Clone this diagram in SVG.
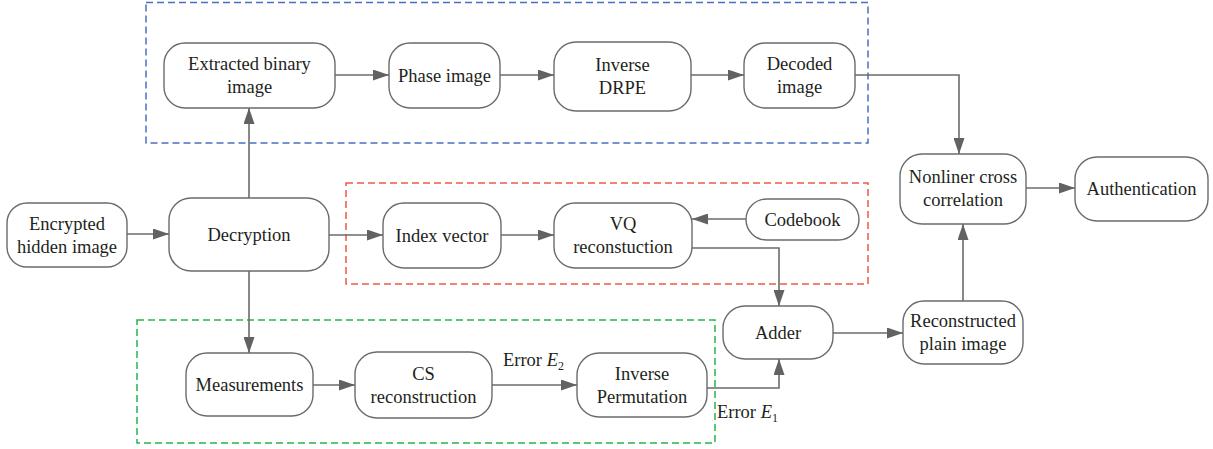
<svg xmlns="http://www.w3.org/2000/svg" width="1213" height="449" viewBox="0 0 1213 449" font-family="'Liberation Serif', 'Times New Roman', serif">
<defs>
<marker id="ah" viewBox="0 0 16 11" refX="16" refY="5.5" markerWidth="16" markerHeight="11" markerUnits="userSpaceOnUse" orient="auto">
<path d="M0,0 L16,5.5 L0,11 Z" fill="#626262"/>
</marker>
<style>
.n{fill:#fff;stroke:#6b6b6b;stroke-width:1.4}
.t{font-family:'Liberation Serif',serif;font-size:18.5px;fill:#231f20;text-anchor:middle}
.c{fill:none;stroke:#6b6b6b;stroke-width:1.6;marker-end:url(#ah)}
.g{fill:none;stroke-width:1.5;stroke-dasharray:7 4}
</style>
</defs>
<rect width="1213" height="449" fill="#fff"/>
<g id="groups">
<rect class="g" x="146" y="2.5" width="722" height="140.5" stroke="#4a6fc0"/>
<rect class="g" x="346" y="183" width="522" height="101" stroke="#f05a46"/>
<rect class="g" x="137" y="320" width="578" height="123" stroke="#26b34e"/>
</g>
<g id="connectors">
<path class="c" d="M127,234 H169"/>
<path class="c" d="M249,198 V108"/>
<path class="c" d="M335,75 H389"/>
<path class="c" d="M500,75 H554"/>
<path class="c" d="M691,75 H744"/>
<path class="c" d="M855,75 H959 V154"/>
<path class="c" d="M329,235 H383"/>
<path class="c" d="M501,235 H554"/>
<path class="c" d="M746,219 H692"/>
<path class="c" d="M692,248 H779 V306"/>
<path class="c" d="M249,271 V353"/>
<path class="c" d="M313,385 H355"/>
<path class="c" d="M492,385 H577"/>
<path class="c" d="M707,388 H779 V359"/>
<path class="c" d="M833,333 H903"/>
<path class="c" d="M963,301 V224"/>
<path class="c" d="M1026,188 H1075"/>
</g>
<g id="encrypted">
<rect class="n" x="7" y="203" width="120" height="64" rx="20"/>
<text class="t" x="67" y="229.5">Encrypted</text>
<text class="t" x="67" y="252.5">hidden image</text>
</g>
<g id="decryption">
<rect class="n" x="169" y="198" width="160" height="73" rx="22"/>
<text class="t" x="249" y="240.5">Decryption</text>
</g>
<g id="extracted">
<rect class="n" x="164" y="43" width="171" height="65" rx="21"/>
<text class="t" x="249.5" y="70">Extracted binary</text>
<text class="t" x="249.5" y="93">image</text>
</g>
<g id="phase">
<rect class="n" x="389" y="43" width="111" height="65" rx="21"/>
<text class="t" x="444.5" y="82">Phase image</text>
</g>
<g id="inverse-drpe">
<rect class="n" x="554" y="42" width="137" height="69" rx="22"/>
<text class="t" x="622.5" y="70.5">Inverse</text>
<text class="t" x="622.5" y="93.5">DRPE</text>
</g>
<g id="decoded">
<rect class="n" x="744" y="43" width="111" height="65" rx="21"/>
<text class="t" x="799.5" y="70">Decoded</text>
<text class="t" x="799.5" y="93">image</text>
</g>
<g id="nonliner">
<rect class="n" x="900" y="154" width="126" height="70" rx="22"/>
<text class="t" x="963" y="183">Nonliner cross</text>
<text class="t" x="963" y="206">correlation</text>
</g>
<g id="authentication">
<rect class="n" x="1075" y="157" width="133" height="64" rx="22"/>
<text class="t" x="1141.5" y="195">Authentication</text>
</g>
<g id="index-vector">
<rect class="n" x="383" y="203" width="118" height="65" rx="21"/>
<text class="t" x="442" y="241.5">Index vector</text>
</g>
<g id="vq">
<rect class="n" x="554" y="203" width="138" height="65" rx="21"/>
<text class="t" x="623" y="230">VQ</text>
<text class="t" x="623" y="253">reconstuction</text>
</g>
<g id="codebook">
<rect class="n" x="746" y="199" width="113" height="41" rx="20.5"/>
<text class="t" x="802.5" y="226">Codebook</text>
</g>
<g id="measurements">
<rect class="n" x="186" y="353" width="127" height="63" rx="21"/>
<text class="t" x="249.5" y="391">Measurements</text>
</g>
<g id="cs">
<rect class="n" x="355" y="352" width="137" height="66" rx="22"/>
<text class="t" x="423.5" y="379.5">CS</text>
<text class="t" x="423.5" y="402.5">reconstruction</text>
</g>
<g id="inverse-permutation">
<rect class="n" x="577" y="353" width="130" height="64" rx="22"/>
<text class="t" x="642" y="379.5">Inverse</text>
<text class="t" x="642" y="402.5">Permutation</text>
</g>
<g id="adder">
<rect class="n" x="723" y="306" width="110" height="53" rx="22"/>
<text class="t" x="778" y="338.5">Adder</text>
</g>
<g id="reconstructed">
<rect class="n" x="903" y="301" width="120" height="63" rx="21"/>
<text class="t" x="963" y="327">Reconstructed</text>
<text class="t" x="963" y="350">plain image</text>
</g>
<g id="labels">
<text class="t" x="503" y="366" style="text-anchor:start">Error <tspan font-style="italic">E</tspan><tspan font-size="12" dy="4">2</tspan></text>
<text class="t" x="717" y="418" style="text-anchor:start">Error <tspan font-style="italic">E</tspan><tspan font-size="12" dy="4">1</tspan></text>
</g>
</svg>
